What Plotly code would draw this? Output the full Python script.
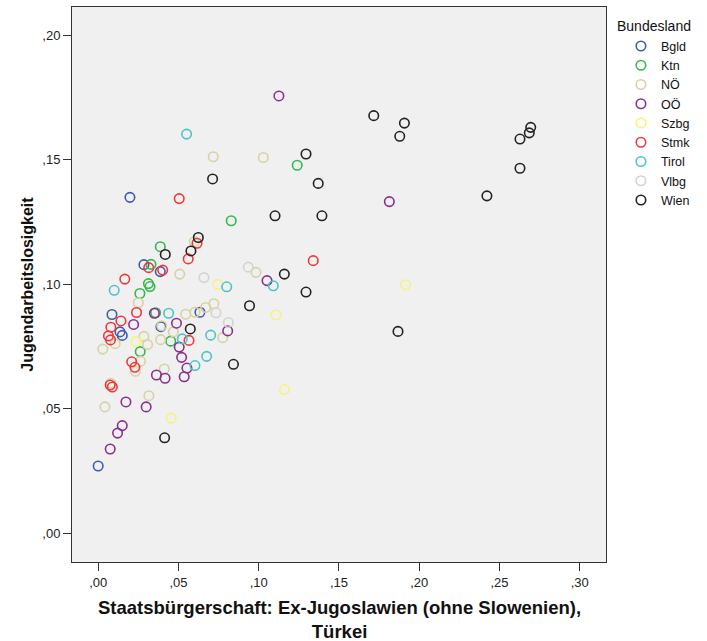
import plotly.graph_objects as go

# Share of citizens from Ex-Yugoslavia (excl. Slovenia) / Turkey vs. youth unemployment,
# one point per district, grouped by federal state (Bundesland).
states = ["Bgld", "Ktn", "NÖ", "OÖ", "Szbg", "Stmk", "Tirol", "Vlbg", "Wien"]
state_colors = ["#3F5BB0", "#34B84C", "#D8D2A0", "#8B2F8F", "#F7F377",
                "#F0383C", "#4CC3C8", "#D3D3D3", "#222222"]

bgld_x = [0.0198, 0.0285, 0.0387, 0.0086, 0.0136, 0.0150, 0.0391, 0.0634, 0.0000]
bgld_y = [0.1349, 0.1079, 0.1051, 0.0879, 0.0809, 0.0795, 0.0830, 0.0888, 0.0271]

ktn_x = [0.1240, 0.0829, 0.0387, 0.0329, 0.0313, 0.0323, 0.0260, 0.0358, 0.0452, 0.0262]
ktn_y = [0.1478, 0.1255, 0.1151, 0.1080, 0.1003, 0.0991, 0.0963, 0.0886, 0.0772, 0.0730]

noe_x = [0.0717, 0.1029, 0.0599, 0.0508, 0.0983, 0.0250, 0.0721, 0.0670, 0.0603, 0.0545,
         0.0396, 0.0468, 0.0776, 0.0389, 0.0285, 0.0308, 0.0106, 0.0029, 0.0264, 0.0232,
         0.0412, 0.0078, 0.0316, 0.0042]
noe_y = [0.1512, 0.1509, 0.1171, 0.1041, 0.1048, 0.0926, 0.0922, 0.0907, 0.0888, 0.0880,
         0.0834, 0.0809, 0.0786, 0.0778, 0.0791, 0.0758, 0.0762, 0.0740, 0.0691, 0.0651,
         0.0660, 0.0603, 0.0553, 0.0508]

ooe_x = [0.1126, 0.1814, 0.1052, 0.0350, 0.0221, 0.0488, 0.0807, 0.0505, 0.0520, 0.0553,
         0.0536, 0.0363, 0.0417, 0.0173, 0.0299, 0.0150, 0.0121, 0.0075]
ooe_y = [0.1756, 0.1332, 0.1015, 0.0884, 0.0839, 0.0844, 0.0813, 0.0748, 0.0707, 0.0664,
         0.0629, 0.0636, 0.0623, 0.0528, 0.0508, 0.0433, 0.0403, 0.0339]

szbg_x = [0.1915, 0.0746, 0.1108, 0.0236, 0.0455, 0.1161]
szbg_y = [0.0998, 0.1000, 0.0877, 0.0770, 0.0463, 0.0578]

stmk_x = [0.0505, 0.1340, 0.0616, 0.0561, 0.0315, 0.0402, 0.0166, 0.0239, 0.0142, 0.0079,
          0.0064, 0.0077, 0.0566, 0.0209, 0.0229, 0.0075, 0.0088]
stmk_y = [0.1344, 0.1095, 0.1165, 0.1102, 0.1067, 0.1057, 0.1021, 0.0887, 0.0853, 0.0828,
          0.0793, 0.0777, 0.0775, 0.0689, 0.0667, 0.0596, 0.0588]

tirol_x = [0.0551, 0.1091, 0.0801, 0.0100, 0.0439, 0.0524, 0.0701, 0.0676, 0.0603]
tirol_y = [0.1603, 0.0994, 0.0990, 0.0976, 0.0884, 0.0781, 0.0796, 0.0711, 0.0674]

vlbg_x = [0.0935, 0.0659, 0.0734, 0.0811]
vlbg_y = [0.1069, 0.1027, 0.0886, 0.0847]

wien_x = [0.1717, 0.1908, 0.1879, 0.2695, 0.2686, 0.2628, 0.2628, 0.2422, 0.1295, 0.1371,
          0.0713, 0.1102, 0.1394, 0.0624, 0.0578, 0.0418, 0.1160, 0.1295, 0.0943, 0.0574,
          0.0843, 0.1868, 0.0414]
wien_y = [0.1677, 0.1647, 0.1594, 0.1630, 0.1608, 0.1583, 0.1466, 0.1355, 0.1523, 0.1405,
          0.1423, 0.1275, 0.1275, 0.1188, 0.1134, 0.1120, 0.1041, 0.0969, 0.0914, 0.0821,
          0.0679, 0.0811, 0.0384]

series_x = [bgld_x, ktn_x, noe_x, ooe_x, szbg_x, stmk_x, tirol_x, vlbg_x, wien_x]
series_y = [bgld_y, ktn_y, noe_y, ooe_y, szbg_y, stmk_y, tirol_y, vlbg_y, wien_y]

x_tickvals = [0.00, 0.05, 0.10, 0.15, 0.20, 0.25, 0.30]
x_ticktext = [",00", ",05", ",10", ",15", ",20", ",25", ",30"]
y_tickvals = [0.00, 0.05, 0.10, 0.15, 0.20]
y_ticktext = [",00", ",05", ",10", ",15", ",20"]

x_title = "Staatsbürgerschaft: Ex-Jugoslawien (ohne Slowenien),<br>Türkei"
y_title = "Jugendarbeitslosigkeit"
legend_title = "Bundesland"

FONT = "Liberation Sans, Arial, sans-serif"

fig = go.Figure()
for name, color, xs, ys in zip(states, state_colors, series_x, series_y):
    fig.add_trace(go.Scatter(
        x=xs, y=ys, mode="markers", name=name,
        marker=dict(symbol="circle-open", size=9.5, color=color,
                    line=dict(width=1.6, color=color)),
    ))

axis_common = dict(
    showline=True, mirror=True, linecolor="#333333", linewidth=1,
    ticks="outside", ticklen=8, tickcolor="#333333", tickwidth=1,
    showgrid=False, zeroline=False,
    tickfont=dict(family=FONT, size=13, color="#222222"),
)

annotations = [
    # two-line x-axis title, set tightly under the tick labels
    dict(text=x_title, xref="paper", yref="paper", x=0.5, y=-0.1036,
         xanchor="center", yanchor="middle", showarrow=False,
         font=dict(family=FONT, size=18.5, color="#111111", weight="bold")),
    dict(text=legend_title, xref="paper", yref="paper",
         x=1.0169, y=0.9658, xanchor="left", yanchor="middle",
         showarrow=False, font=dict(family=FONT, size=14, color="#111111")),
]

fig.update_layout(
    width=707, height=641,
    margin=dict(l=72, r=101, t=7, b=79),
    paper_bgcolor="white", plot_bgcolor="#F0F0F0",
    font=dict(family=FONT, color="#111111"),
    xaxis=dict(range=[-0.0163, 0.3164], tickvals=x_tickvals, ticktext=x_ticktext,
               **axis_common),
    yaxis=dict(
        range=[-0.01144, 0.2113], tickvals=y_tickvals, ticktext=y_ticktext,
        title=dict(text=y_title,
                   font=dict(family=FONT, size=16, color="#111111", weight="bold"),
                   standoff=4),
        **axis_common,
    ),
    showlegend=True,
    legend=dict(
        x=1.028, xanchor="left", y=0.956, yanchor="top",
        font=dict(family=FONT, size=12.5, color="#111111"),
        bgcolor="rgba(0,0,0,0)", borderwidth=0, itemwidth=30,
        tracegroupgap=0,
    ),
    annotations=annotations,
)

fig.write_html("out.html")
